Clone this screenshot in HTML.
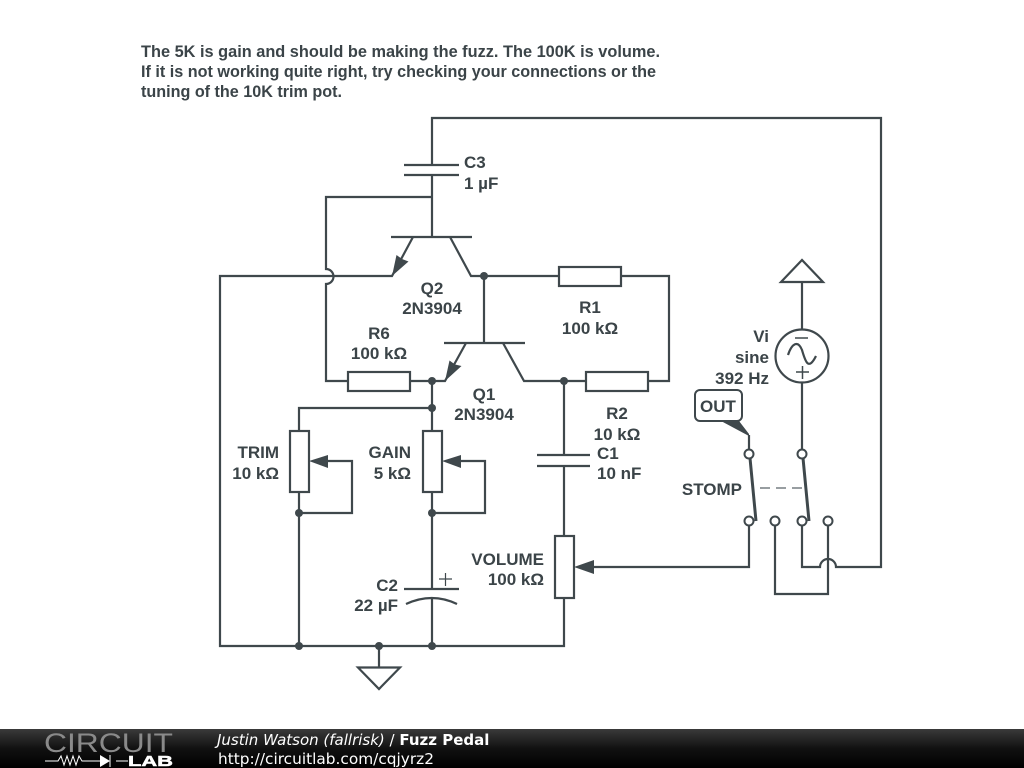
<!DOCTYPE html>
<html><head><meta charset="utf-8"><style>
html,body{margin:0;padding:0;background:#fff;width:1024px;height:768px;overflow:hidden}
svg{display:block}
.t{font:bold 17px "Liberation Sans",sans-serif;fill:#3b4448}
.w{fill:none;stroke:#3f484c;stroke-width:2.2}
.d{fill:#3f484c}
</style></head><body>
<svg width="1024" height="768" viewBox="0 0 1024 768" xmlns="http://www.w3.org/2000/svg">
<defs><linearGradient id="g" x1="0" y1="0" x2="0" y2="1"><stop offset="0" stop-color="#3a3a3a"/><stop offset=".5" stop-color="#111"/><stop offset="1" stop-color="#000"/></linearGradient></defs>
<text class="t" x="141" y="57" textLength="519" lengthAdjust="spacingAndGlyphs">The 5K is gain and should be making the fuzz. The 100K is volume.</text>
<text class="t" x="141" y="77" textLength="515" lengthAdjust="spacingAndGlyphs">If it is not working quite right, try checking your connections or the</text>
<text class="t" x="141" y="97" textLength="201" lengthAdjust="spacingAndGlyphs">tuning of the 10K trim pot.</text>

<g class="w">
<path d="M432 165V118H881V567H836A8 8 0 0 0 820 567H802V526"/>
<path d="M404 165H459M404 175H459M432 175V237"/>
<path d="M432 197H326V269A7.500 7.500 0 0 1 326 284V381H348"/>
<path d="M391 237H472M413 237L392 276H220V646H564V598"/>
<path d="M450 237L471 276H559M621 276H669V381H648"/>
<path d="M484 276V343M444 343H525M466 343L445 381H410M503 343L524 381H586"/>
<path d="M564 381V455M537 455H590M537 466H590M564 466V536"/>
<path d="M432 381V431M432 408H299V431M299 492V646M299 513H352V461H320M432 492V589M432 513H485V461H453"/>
<path d="M404 589H459M406 604Q432 592 457 604M432 598V646"/>
<path d="M379 646V667M358 667.500H400L379 689Z"/>
<path d="M585 567H749V526M749 435V450"/>
<path d="M775 526V594H828V526"/>
<path d="M802 260L781 282H823ZM802 282V329M802 383V450"/>
<rect x="348" y="372" width="62" height="19"/>
<rect x="559" y="267" width="62" height="19"/>
<rect x="586" y="372" width="62" height="19"/>
<rect x="290" y="431" width="19" height="61"/>
<rect x="423" y="431" width="19" height="61"/>
<rect x="555" y="536" width="19" height="62"/>
<circle cx="802" cy="356" r="26.500"/>
<path d="M795 338H808M796 372H809M802.500 366V379" stroke-width="1.500"/>
<path d="M788 355C792 343 798 340 802 350C805 360 808 372 816 356" stroke-width="2.200"/>
<path d="M439 579H452M445.500 573V586" stroke-width="1.200"/>
</g>
<g class="d">
<path d="M392 276L396.500 255L402 259L408.500 261.500Z"/>
<path d="M445 381L449.500 360.500L455 364.500L461.500 366Z"/>
<path d="M309 461L328 455V468Z"/>
<path d="M442 461L461 455V468Z"/>
<path d="M574 567L594 560V574Z"/>
<circle cx="484" cy="276" r="4"/><circle cx="432" cy="381" r="4"/><circle cx="432" cy="408" r="4"/>
<circle cx="564" cy="381" r="4"/><circle cx="299" cy="513" r="4"/><circle cx="432" cy="513" r="4"/>
<circle cx="299" cy="646" r="4"/><circle cx="379" cy="646" r="4"/><circle cx="432" cy="646" r="4"/>
<path d="M721 421H739L749 434V436Z"/>
</g>
<rect x="695" y="390" width="47" height="31" rx="5" fill="#fff" stroke="#3f484c" stroke-width="2"/>
<path d="M750 458L756 521M803 458L809 521" stroke="#3f484c" stroke-width="3" fill="none"/>
<path d="M760 488H802" stroke="#8a9094" stroke-width="1.800" stroke-dasharray="10 6" fill="none"/>
<g fill="#fff" stroke="#3f484c" stroke-width="2">
<circle cx="749" cy="454" r="4.500"/><circle cx="802" cy="454" r="4.500"/>
<circle cx="749" cy="521" r="4.500"/><circle cx="775" cy="521" r="4.500"/><circle cx="802" cy="521" r="4.500"/><circle cx="828" cy="521" r="4.500"/>
</g>

<text class="t" x="464" y="168">C3</text><text class="t" x="464" y="189">1 µF</text>
<g text-anchor="middle">
<text class="t" x="432" y="294">Q2</text><text class="t" x="432" y="314">2N3904</text>
<text class="t" x="379" y="339">R6</text><text class="t" x="379" y="359">100 kΩ</text>
<text class="t" x="590" y="313">R1</text><text class="t" x="590" y="334">100 kΩ</text>
<text class="t" x="484" y="400">Q1</text><text class="t" x="484" y="420">2N3904</text>
<text class="t" x="617" y="419">R2</text><text class="t" x="617" y="440">10 kΩ</text>
<text class="t" x="718" y="412">OUT</text>
</g>
<text class="t" x="597" y="459">C1</text><text class="t" x="597" y="479">10 nF</text>
<g text-anchor="end">
<text class="t" x="279" y="458">TRIM</text><text class="t" x="279" y="479">10 kΩ</text>
<text class="t" x="411" y="458">GAIN</text><text class="t" x="411" y="479">5 kΩ</text>
<text class="t" x="398" y="591">C2</text><text class="t" x="398" y="611">22 µF</text>
<text class="t" x="544" y="565">VOLUME</text><text class="t" x="544" y="585">100 kΩ</text>
<text class="t" x="742" y="495">STOMP</text>
<text class="t" x="769" y="342">Vi</text><text class="t" x="769" y="363">sine</text><text class="t" x="769" y="384">392 Hz</text>
</g>

<rect x="0" y="729" width="1024" height="39" fill="url(#g)"/>
<text x="44" y="752" font-family="Liberation Sans,sans-serif" font-size="27" fill="#8a8a8a" textLength="129" lengthAdjust="spacingAndGlyphs">CIRCUIT</text>
<path d="M45 761H58L61 756L64 765L67 756L70 765L73 756L76 765L79 756L82 761H100M116 761H128M110 755V767" stroke="#fff" stroke-width="1" fill="none"/>
<path d="M100 755V767L110 761Z" fill="#fff"/>
<text x="128" y="766" font-family="Liberation Sans,sans-serif" font-weight="bold" font-size="15" fill="#fff" stroke="#fff" stroke-width=".5" textLength="45" lengthAdjust="spacingAndGlyphs">LAB</text>
<text x="217" y="745" font-family="DejaVu Sans,sans-serif" font-size="15" fill="#fff"><tspan font-style="italic">Justin Watson (fallrisk)</tspan> / <tspan font-weight="bold">Fuzz Pedal</tspan></text>
<text x="218" y="764" font-family="DejaVu Sans,sans-serif" font-size="15" fill="#fff" textLength="216" lengthAdjust="spacingAndGlyphs">http://circuitlab.com/cqjyrz2</text>
</svg>
</body></html>
